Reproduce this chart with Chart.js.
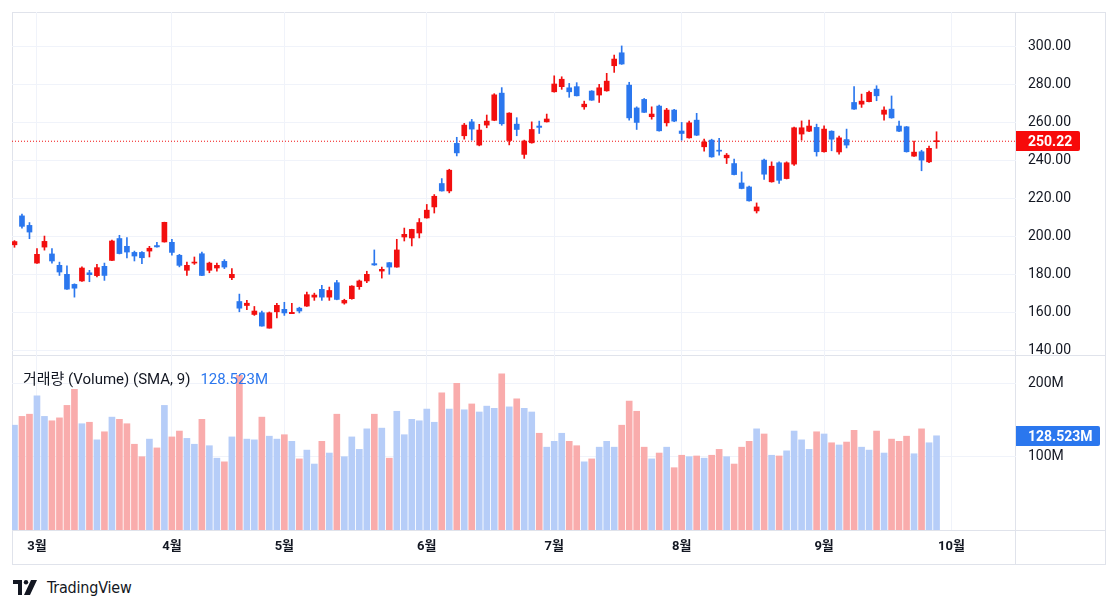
<!DOCTYPE html>
<html>
<head>
<meta charset="utf-8">
<script src="https://cdn.jsdelivr.net/npm/chart.js@4.4.1/dist/chart.umd.min.js"></script>
<style>
  body { margin: 0; background: #fff; width: 1118px; height: 609px; position: relative; overflow: hidden; font-family: Roboto, "Noto Sans CJK KR", sans-serif; }
  .line { position: absolute; background: #e0e3eb; }
  canvas { position: absolute; }
  #volLegend { position: absolute; left: 23px; top: 367px; font-size: 15px; color: #131722; white-space: nowrap; font-family: Roboto, "Noto Sans CJK KR", sans-serif; }
  #volLegend span { color: #2b77ee; margin-left: 10px; }
  #logo { position: absolute; left: 13px; top: 578px; display: flex; align-items: center; color: #131722; }
  #logo b { font-family: "Liberation Sans Narrow", "DejaVu Sans Condensed", sans-serif; font-weight: normal; font-size: 16px; margin-left: 8px; letter-spacing: -0.2px; }
</style>
</head>
<body>
<div class="line" style="left:12px;top:12px;width:1094px;height:1px"></div>
<div class="line" style="left:12px;top:564px;width:1094px;height:1px"></div>
<div class="line" style="left:12px;top:12px;width:1px;height:553px"></div>
<div class="line" style="left:1105px;top:12px;width:1px;height:553px"></div>
<div class="line" style="left:12px;top:355px;width:1094px;height:1px"></div>
<div class="line" style="left:12px;top:530px;width:1094px;height:1px"></div>
<div class="line" style="left:1015px;top:12px;width:1px;height:553px"></div>
<canvas id="priceChart" width="1094" height="344" style="left:12px;top:12px"></canvas>
<canvas id="volChart" width="1094" height="209" style="left:12px;top:356px"></canvas>
<div id="volLegend">거래량 (Volume) (SMA, 9)<span id="volValue"></span></div>
<div id="logo">
  <svg width="26" height="15" viewBox="0 0 26 15"><path d="M0 0h9v15H5V4H0z" fill="#131722"/><circle cx="13" cy="2.2" r="2.2" fill="#131722"/><path d="M18 0h6l-7 15h-6z" fill="#131722"/></svg>
  <b>TradingView</b>
</div>
<script>
// candles, oldest first (Mar -> end of Sep)
const open  = [195.8,211,206,186.2,194.6,191,185,180.3,175,176.8,181.1,179.6,184.5,187.6,199.1,195,191.8,191.8,192.5,195.4,
  197.3,197.1,190.3,182.4,186.2,191.1,182.4,183.6,187.1,178.5,166,163.9,159.2,160.1,152,160.6,161.9,159.6,162.5,163.6,
  168.3,172.4,168.3,175.9,165.2,167.5,173.8,176.8,185.9,182,186.4,184.1,199.9,199.4,202,209.9,215.7,228,224.1,249.1,
  253.1,260.4,248.2,258.7,261.2,275.5,250.6,259.2,243.3,249.4,258.2,260.4,276.2,278.9,278.3,278.9,268.3,276.6,274.5,276.7,
  289.9,296.7,279.7,267.7,272.2,263.1,268.7,259.9,266.6,255.6,252,261.3,247.3,250.8,245.5,241.5,238.5,228.3,226.2,213.6,
  240.3,228.9,238.9,230.6,238.2,254,255.5,257.5,244.7,255.5,244.6,251.1,270.6,269.7,271,277.6,264.4,267.1,258.2,257.8,
  242.4,244.7,239.4,250.0];
const high  = [198,212,207.5,193.8,200.4,193.8,186.7,184.8,175.3,184.2,182.4,185.5,186.2,198.3,200.8,199.6,192.5,192.2,195,197.1,
  207.7,198.7,190.8,186.7,189.4,192,186.7,186.2,188,183.3,169.9,166.6,163.4,161,160.5,165.1,165.6,165.1,163,171,
  170.4,174.5,173.6,177.1,167.2,174.3,177.3,181.9,193.1,184.1,186.5,198.7,204.6,204,209.6,217,222.2,230.6,235.5,252.3,
  259.6,261.7,259.1,264,275.2,278.4,265.2,262.6,250.8,260.4,260.8,264.5,284.6,284.1,280.6,281,271.3,276.8,280.1,285.9,
  295.5,300.3,281.2,268.3,272.7,268.3,269.2,267.5,267,260.1,260.8,264.9,251.3,251.3,251.7,243.8,240.8,234.1,226.6,217.8,
  240.8,239.4,239.4,239.4,257.6,260.9,261.3,259.2,258.3,255.7,252.9,256.6,278.9,275,276.6,279.4,268.3,274,260.8,258,
  250.3,245.5,247.7,255.2];
const low   = [194.5,204.5,199,186,193,186.2,179.7,172.3,168.3,176.6,176.4,178.9,177.1,187.4,191,188.9,187.3,185.9,189.4,194.6,
  197.2,190.3,184.2,179.7,185.5,179.6,181.1,182,183.3,177.5,160.6,161.7,158.7,153,152,157.4,158.7,159.6,160,163.4,
  166.6,166.6,166.6,166.9,164.6,167.2,172.4,175.9,185,178.3,180.3,184,197.8,195.2,199.4,209.8,212.5,224,223.1,242.5,
  251.3,250.8,247.8,257.3,261,258.6,248.3,253.1,241.2,249.2,254.3,260.3,276,277.5,273.3,274,267,271.7,270.6,276.5,
  286.4,290.6,261.3,256.4,265.3,261.8,255.5,258.2,260.5,250.8,251.8,253.2,245,241.8,242.9,238.5,232.5,225.2,218.7,212.5,
  230.1,228.7,228,230.4,237.5,250.8,255.3,242.4,244.5,245.2,243.4,246.7,267,268,270.9,271.5,261.3,262.3,255.3,244.5,
  242.2,234.7,239,246.5];
const close = [197.5,205.5,202.5,190.8,197.6,187.3,181.5,172.5,173,183.6,180.1,183.8,179.7,197.8,191.2,192,189.9,189,194,194.7,
  207.6,191.8,185,185,186.7,179.7,186.2,185,184.1,180.3,162.5,165.1,161,153.1,160.1,164,160,160.3,161,169.6,
  169.4,168.3,171.8,167.1,166.6,174.1,176.8,180.3,185.2,182.9,184.1,193.1,201.3,203.9,207.5,214,221.3,224.1,235,244.1,
  258.7,256.6,256.1,260.8,274.6,259.4,265,256.4,250.3,256.4,257.5,261.9,280.3,282.8,276.2,274.1,269.7,271.8,278.3,281.8,
  293.4,290.8,262.5,260.1,265.4,264.5,255.7,266.6,260.8,254.3,259.9,253.4,249.8,242,245,242.9,232.7,225.4,218.9,215.7,
  232.9,237.1,229.7,238.9,257.3,257.3,258.2,244.7,256.6,251.3,252,248.2,267.1,271.3,275.9,274.1,266.6,262.5,255.5,244.7,
  244.5,240.3,246.5,250.22];
// volume in millions
const volume = [143,155,158,183,155,149,153,170,192,145,147,123,134,154,151,145,117,100,124,112,
  170,127,135,125,117,151,115,98,93,127,211,124,123,154,128,124,130,121,97,109,
  90,121,105,158,100,127,110,138,158,139,98,162,130,151,149,165,147,187,165,200,
  164,172,161,169,166,213,168,179,166,161,132,113,121,132,121,115,93,97,113,121,
  113,143,176,162,113,97,105,113,85,102,100,101,98,102,110,100,90,113,121,138,
  131,102,101,108,135,123,110,134,131,119,116,120,136,113,109,135,105,124,121,128,
  104,138,119,128.523];

const monthLabels = ['3월','4월','5월','6월','7월','8월','9월','10월'];
const monthStart  = [3, 21, 36, 55, 72, 89, 108, 125];   // candle index where each month begins
const priceTicks  = [140,160,180,200,220,240,260,280,300];
const volumeTicks = [100, 200];

const UP = '#f20f0f', DOWN = '#2b77ee';
const UP_VOL = '#b6cdf8', DOWN_VOL = '#f9acac';
const X_MIN = -0.33, X_MAX = 133.6;
const gridColor = '#f0f3fa';
const axisFont = { family: 'Roboto, "Noto Sans CJK KR", sans-serif', size: 14 };

const isUp = close.map((c, i) => c >= open[i]);
const candleColors = isUp.map(u => u ? UP : DOWN);
const volColors = isUp.map(u => u ? UP_VOL : DOWN_VOL);
const lastClose = close[close.length - 1];
const lastVol = volume[volume.length - 1];
document.getElementById('volValue').textContent = lastVol.toFixed(3) + 'M';

const tagPlugin = {
  id: 'tag',
  afterDraw(chart, args, opts) {
    const { ctx, chartArea } = chart;
    const py = Math.round(chart.scales.y.getPixelForValue(opts.value));
    ctx.save();
    ctx.fillStyle = opts.color;
    ctx.beginPath();
    ctx.roundRect(chartArea.right, py - 10, opts.width, 20, [0, 2, 2, 0]);
    ctx.fill();
    ctx.fillStyle = '#fff';
    ctx.font = 'bold 14px Roboto, sans-serif';
    ctx.textBaseline = 'middle';
    ctx.fillText(opts.text, chartArea.right + 12, py + 1);
    ctx.restore();
  }
};

// right-hand axis: fixed width, no automatic label padding above/below the plot
const fitRightAxis = s => { s.width = 90; s.paddingTop = 0; s.paddingBottom = 0; };

const xBase = {
  type: 'linear', min: X_MIN, max: X_MAX, offset: false,
  grid: { color: gridColor, drawTicks: false, offset: false },
  border: { display: false },
  afterBuildTicks: s => { s.ticks = monthStart.map(v => ({ value: v })); }
};

new Chart(document.getElementById('priceChart'), {
  type: 'bar',
  data: {
    datasets: [
      { type: 'line', data: [{ x: X_MIN, y: lastClose }, { x: X_MAX, y: lastClose }], borderColor: UP, borderWidth: 1, borderDash: [1, 2], pointRadius: 0, order: 10 },
      { data: low.map((l, i) => ({ x: i, y: [l, high[i]] })), backgroundColor: candleColors, barThickness: 1, grouped: false, order: 2 },
      { data: open.map((o, i) => ({ x: i, y: [o, close[i]] })), backgroundColor: candleColors, barThickness: 5, minBarLength: 1, grouped: false, order: 1 }
    ]
  },
  options: {
    responsive: false, animation: false,
    layout: { padding: 0, autoPadding: false },
    plugins: { legend: { display: false }, tooltip: { enabled: false },
      tag: { value: lastClose, text: lastClose.toFixed(2), color: '#f70a0a', width: 64 } },
    scales: {
      x: Object.assign({}, xBase, { ticks: { display: false }, afterFit: s => { s.height = 0; s.paddingLeft = 0; s.paddingRight = 0; } }),
      y: {
        position: 'right', min: 137.37, max: 318.13,
        grid: { color: gridColor, drawTicks: false },
        border: { display: false },
        afterBuildTicks: s => { s.ticks = priceTicks.map(v => ({ value: v })); },
        afterFit: fitRightAxis,
        ticks: { padding: 12, color: '#131722', font: axisFont, callback: v => v.toFixed(2) }
      }
    }
  },
  plugins: [tagPlugin]
});

new Chart(document.getElementById('volChart'), {
  type: 'bar',
  data: {
    datasets: [
      { data: volume.map((v, i) => ({ x: i, y: v })), backgroundColor: volColors, barThickness: 6, grouped: false }
    ]
  },
  options: {
    responsive: false, animation: false,
    layout: { padding: 0, autoPadding: false },
    plugins: { legend: { display: false }, tooltip: { enabled: false },
      tag: { value: lastVol, text: lastVol.toFixed(3) + 'M', color: '#2b77ee', width: 84 } },
    scales: {
      x: Object.assign({}, xBase, {
        afterFit: s => { s.height = 35; s.paddingLeft = 0; s.paddingRight = 0; },
        ticks: { padding: 9, color: '#131722', font: { family: axisFont.family, size: 13, weight: 'bold' }, maxRotation: 0, autoSkip: false, callback: (v, i) => monthLabels[i] }
      }),
      y: {
        position: 'right', min: 0, max: 237.4,
        grid: { color: gridColor, drawTicks: false },
        border: { display: false },
        afterBuildTicks: s => { s.ticks = volumeTicks.map(v => ({ value: v })); },
        afterFit: fitRightAxis,
        ticks: { padding: 12, color: '#131722', font: axisFont, callback: v => v + 'M' }
      }
    }
  },
  plugins: [tagPlugin]
});
</script>
</body>
</html>
